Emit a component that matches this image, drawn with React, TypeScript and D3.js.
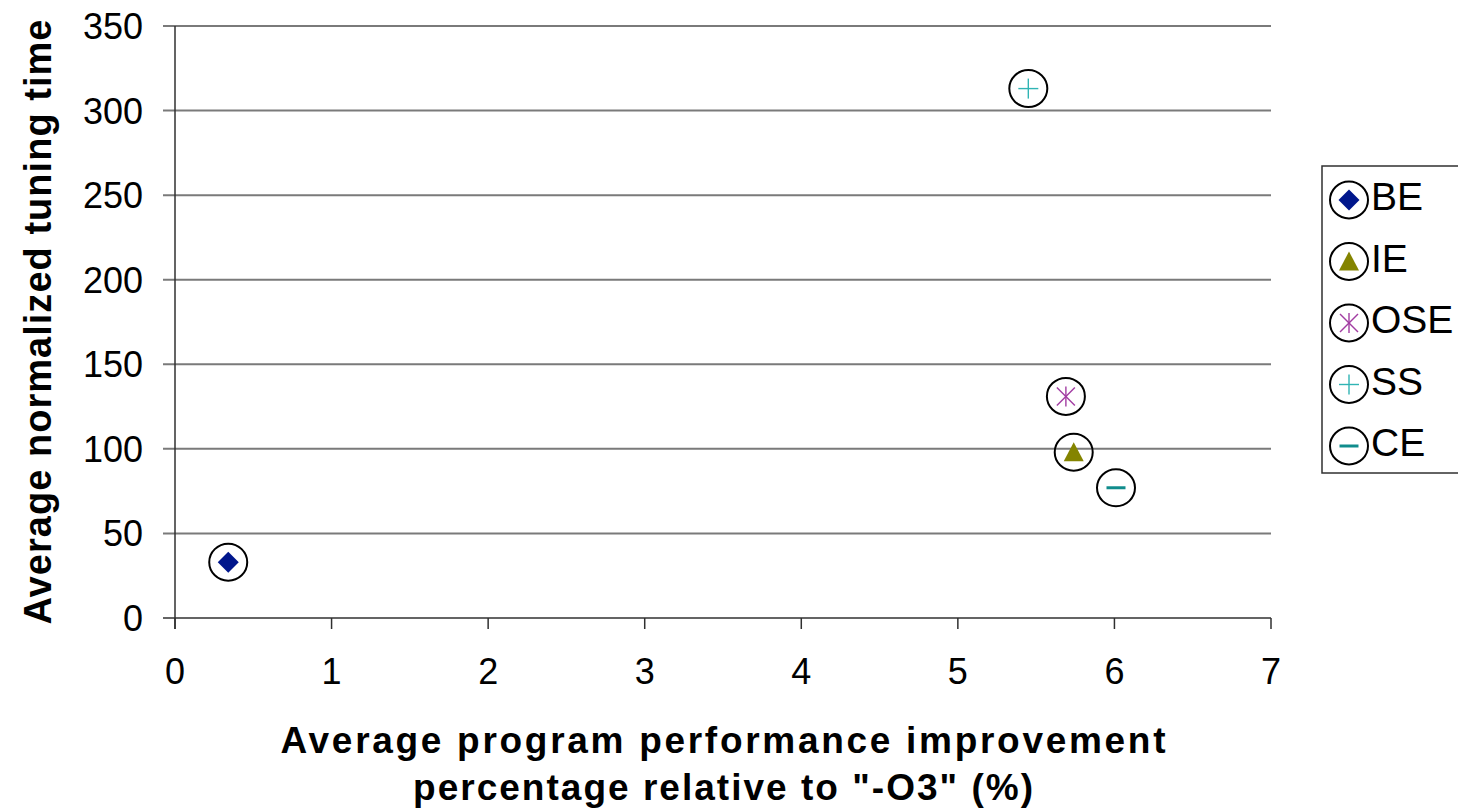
import React from "react";
import * as d3 from "d3";

const seriesNames = ["BE", "IE", "OSE", "SS", "CE"];
const xValues = [0.34, 5.74, 5.69, 5.45, 6.01];
const yValues = [33, 98, 131, 313, 77];
const colors = ["#00168c", "#848400", "#a23ca2", "#30b4b4", "#108c8c"];
const xTicks = [0, 1, 2, 3, 4, 5, 6, 7];
const yTicks = [0, 50, 100, 150, 200, 250, 300, 350];

const W = 1458;
const H = 812;
const FONT = "'Liberation Sans', Arial, sans-serif";

function Marker({ kind, color }: { kind: string; color: string }) {
  if (kind === "BE") {
    return <path d="M0,-10.5L10.5,0L0,10.5L-10.5,0Z" fill={color} />;
  }
  if (kind === "IE") {
    return <path d="M0,-10L10,9L-10,9Z" fill={color} />;
  }
  if (kind === "OSE") {
    return (
      <g stroke={color} strokeWidth={1.4}>
        <line x1={-9} y1={-9} x2={9} y2={9} />
        <line x1={-9} y1={9} x2={9} y2={-9} />
        <line x1={0} y1={-10} x2={0} y2={10} />
      </g>
    );
  }
  if (kind === "SS") {
    return (
      <g stroke={color} strokeWidth={1.4}>
        <line x1={-10} y1={0} x2={10} y2={0} />
        <line x1={0} y1={-10} x2={0} y2={10} />
      </g>
    );
  }
  return <line x1={-9.5} y1={0} x2={9.5} y2={0} stroke={color} strokeWidth={3} />;
}

export default function App() {
  const x = d3.scaleLinear().domain([0, 7]).range([175, 1271]);
  const y = d3.scaleLinear().domain([0, 350]).range([618, 26]);

  return (
    <svg
      width={W}
      height={H}
      style={{ position: "absolute", left: 0, top: 0, background: "#fff" }}
      fontFamily={FONT}
    >
      {/* gridlines */}
      {yTicks.map((t) => (
        <line
          key={"g" + t}
          x1={163}
          x2={1271}
          y1={y(t)}
          y2={y(t)}
          stroke={t === 0 ? "#303030" : "#7a7a7a"}
          strokeWidth={t === 0 ? 1.5 : 2}
        />
      ))}
      {/* y axis */}
      <line x1={175} x2={175} y1={y(350)} y2={629} stroke="#303030" strokeWidth={1.5} />
      {/* x ticks */}
      {xTicks.map((t) => (
        <line key={"xt" + t} x1={x(t)} x2={x(t)} y1={618} y2={629} stroke="#303030" strokeWidth={1.5} />
      ))}
      {/* y tick labels */}
      {yTicks.map((t) => (
        <text key={"yl" + t} x={143} y={y(t) + 13} textAnchor="end" fontSize={36} fill="#000">
          {t}
        </text>
      ))}
      {/* x tick labels */}
      {xTicks.map((t) => (
        <text key={"xl" + t} x={x(t)} y={684} textAnchor="middle" fontSize={36} fill="#000">
          {t}
        </text>
      ))}
      {/* axis titles */}
      <text
        transform="translate(51,322) rotate(-90)"
        textAnchor="middle"
        fontSize={38}
        fontWeight="bold"
        textLength={605}
        lengthAdjust="spacing"
      >
        Average normalized tuning time
      </text>
      <text x={723} y={753} textAnchor="middle" fontSize={37} fontWeight="bold" textLength={885} lengthAdjust="spacing">
        Average program performance improvement
      </text>
      <text x={723} y={800} textAnchor="middle" fontSize={37} fontWeight="bold" textLength={620} lengthAdjust="spacing">
        percentage relative to "-O3" (%)
      </text>
      {/* points */}
      {seriesNames.map((s, i) => (
        <g key={s} transform={`translate(${x(xValues[i])},${y(yValues[i])})`}>
          <ellipse rx={19} ry={18.5} fill="none" stroke="#000" strokeWidth={2} />
          <Marker kind={s} color={colors[i]} />
        </g>
      ))}
      {/* legend */}
      <rect x={1322} y={166} width={160} height={307} fill="#fff" stroke="#303030" strokeWidth={1.5} />
      {seriesNames.map((s, i) => (
        <g key={"lg" + s}>
          <g transform={`translate(1349,${200 + i * 61.5})`}>
            <ellipse rx={19} ry={18.5} fill="none" stroke="#000" strokeWidth={2} />
            <Marker kind={s} color={colors[i]} />
          </g>
          <text x={1371} y={200 + i * 61.5 + 10} fontSize={39} fill="#000">
            {s}
          </text>
        </g>
      ))}
    </svg>
  );
}
